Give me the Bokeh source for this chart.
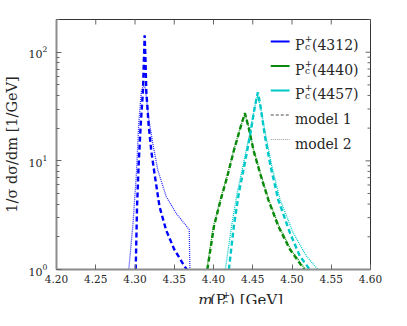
from bokeh.plotting import figure
from bokeh.models import Range1d, LinearScale, FixedTicker, Label
from bokeh.layouts import column
from bokeh.embed import file_html
from bokeh.resources import INLINE

# ---------------- data ----------------
x_ticks = [4.20, 4.25, 4.30, 4.35, 4.40, 4.45, 4.50, 4.55, 4.60]
x_tick_labels = ["4.20", "4.25", "4.30", "4.35", "4.40", "4.45", "4.50", "4.55", "4.60"]
y_ticks = [1, 10, 100]

states = ["4312", "4440", "4457"]
colors = ["#0000ff", "#0a8a0a", "#00c8c8"]
models = ["model 1", "model 2"]

# P_c(4312)
blue_m1_x = [4.3009, 4.3026, 4.3047, 4.3073, 4.3101, 4.3114, 4.3123, 4.3133, 4.3144, 4.3173,
             4.3207, 4.3249, 4.3312, 4.3397, 4.3500, 4.3628, 4.3660]
blue_m1_y = [1.0, 3.8, 9.4, 21.7, 43.6, 88, 143, 88, 43.6, 21.7,
             12.4, 7.6, 3.8, 2.3, 1.53, 1.08, 1.0]
blue_m2_x = [4.2921, 4.2975, 4.3018, 4.3047, 4.3081, 4.3101, 4.3115, 4.3132, 4.3173, 4.3228,
             4.3291, 4.3397, 4.3523, 4.3691, 4.3700]
blue_m2_y = [1.0, 2.67, 7.6, 21.7, 43.6, 48, 49, 47, 25, 14.3,
             8.2, 4.7, 3.3, 2.33, 0.9]

# P_c(4440)
green_m1_x = [4.3922, 4.4006, 4.4090, 4.4174, 4.4259, 4.4343, 4.4400, 4.4448, 4.4511, 4.4595,
              4.4700, 4.4826, 4.4974, 4.5155]
green_m1_y = [1.0, 2.5, 4.35, 7.1, 12.4, 20.2, 27.5, 20.2, 12.4, 7.6,
              4.35, 2.5, 1.53, 1.0]
green_m2_x = [4.3915, 4.4000, 4.4085, 4.4170, 4.4256, 4.4341, 4.4400, 4.4450, 4.4514, 4.4600,
              4.4706, 4.4834, 4.4985, 4.5170]
green_m2_y = [1.0, 2.5, 4.35, 7.1, 12.4, 20.2, 27.0, 20.2, 12.4, 7.6,
              4.35, 2.5, 1.53, 1.0]

# P_c(4457)
cyan_m1_x = [4.4196, 4.4259, 4.4322, 4.4406, 4.4469, 4.4524, 4.4565, 4.4595, 4.4658, 4.4729,
             4.4826, 4.4974, 4.5100, 4.5226]
cyan_m1_y = [1.0, 2.5, 5.0, 10.1, 17.6, 30.8, 42.7, 33, 16.4, 8.8,
             4.35, 2.17, 1.33, 1.0]
cyan_m2_x = [4.4150, 4.4230, 4.4300, 4.4390, 4.4460, 4.4520, 4.4560, 4.4600, 4.4670, 4.4745,
             4.4850, 4.5016, 4.5184, 4.5330]
cyan_m2_y = [1.0, 2.5, 5.0, 10.1, 17.6, 30.0, 40.0, 31, 16.4, 8.8,
             4.35, 2.17, 1.33, 1.0]

# ---------------- style / layout constants ----------------
FONT = "DejaVu Serif"
TXT = "#262626"
TICK = "#666666"
AXC = "#8c8c8c"
FW, FH = 317, 250
LEFT, RIGHT, TOP, BOTTOM = 53, 20, 19, 27
W = LEFT + FW + RIGHT
QH, OVER = 26, 18

# ---------------- main figure ----------------
p = figure(width=W, height=TOP + FH + BOTTOM, y_axis_type="log", title=None,
           x_range=Range1d(4.20, 4.60), y_range=Range1d(1, 200),
           output_backend="svg", toolbar_location=None,
           min_border_left=LEFT, min_border_right=RIGHT, min_border_top=TOP,
           min_border_bottom=BOTTOM)
p.grid.visible = False
p.outline_line_color = "#333333"
p.outline_line_width = 1
p.background_fill_color = "white"
p.border_fill_alpha = 0

p.extra_x_ranges = {"px": Range1d(0, FW)}
p.extra_y_ranges = {"px": Range1d(0, FH)}
p.extra_x_scales = {"px": LinearScale()}
p.extra_y_scales = {"px": LinearScale()}

# bottom axis
xa = p.xaxis[0]
xa.ticker = FixedTicker(ticks=x_ticks)
xa.major_label_overrides = {t: l for t, l in zip(x_ticks, x_tick_labels)}
xa.axis_line_color = AXC
xa.axis_line_width = 2
xa.major_tick_in = 5
xa.major_tick_out = 0
xa.major_tick_line_color = TICK
xa.minor_tick_line_color = None
xa.major_label_text_font = FONT
xa.major_label_text_font_size = "10.5px"
xa.major_label_text_color = TXT
xa.major_label_standoff = 5

# left axis
ya = p.yaxis[0]
ya.axis_line_color = AXC
ya.axis_line_width = 2
ya.major_tick_in = 5
ya.major_tick_out = 0
ya.minor_tick_in = 3
ya.minor_tick_out = 0
ya.major_tick_line_color = TICK
ya.minor_tick_line_color = TICK
ya.major_label_text_font = FONT
ya.major_label_text_font_size = "11px"
ya.major_label_text_color = TXT
ya.major_label_standoff = 9
ya.axis_label = "1/σ dσ/dm [1/GeV]"
ya.axis_label_text_font = FONT
ya.axis_label_text_font_size = "14.5px"
ya.axis_label_text_font_style = "normal"
ya.axis_label_text_color = TXT
ya.axis_label_standoff = 6

# mirrored ticks on top and right
n = len(x_ticks)
p.segment(x0=x_ticks, y0=[FH] * n, x1=x_ticks, y1=[FH - 5] * n, line_color=TICK, line_width=1,
          y_range_name="px")
y_minor = [m * d for d in y_ticks for m in range(2, 10) if m * d <= 200]
p.segment(x0=[FW] * len(y_ticks), y0=y_ticks, x1=[FW - 5] * len(y_ticks), y1=y_ticks,
          line_color=TICK, line_width=1, x_range_name="px")
p.segment(x0=[FW] * len(y_minor), y0=y_minor, x1=[FW - 3] * len(y_minor), y1=y_minor,
          line_color=TICK, line_width=1, x_range_name="px")

# ---------------- curves ----------------
curves = [
    (blue_m2_x, blue_m2_y, "#2a2aff", "dotted"),
    (green_m2_x, green_m2_y, colors[1], "dotted"),
    (cyan_m2_x, cyan_m2_y, colors[2], "dotted"),
    (green_m1_x, green_m1_y, colors[1], "dashed"),
    (cyan_m1_x, cyan_m1_y, colors[2], "dashed"),
    (blue_m1_x, blue_m1_y, colors[0], "dashed"),
]
for xs, ys, c, kind in curves:
    if kind == "dashed":
        p.line(xs, ys, line_color=c, line_width=2.4, line_dash="5 3")
    else:
        p.line(xs, ys, line_color=c, line_width=1.3, line_dash="1 1")


def lab(fig, x, y, text, size, style="normal", rn="px"):
    kw = dict(x_range_name=rn, y_range_name=rn) if rn else {}
    fig.add_layout(Label(x=x, y=y, text=text, text_font=FONT, text_font_size=size,
                         text_font_style=style, text_color=TXT, text_baseline="alphabetic",
                         text_align="left", **kw))


# ---------------- legend (frame pixel coords) ----------------
leg_y = [228, 203.5, 179, 154.5, 130]
lx0, lx1, tx = 216.3, 235.3, 240.7

for i, c in enumerate(colors):
    p.line([lx0, lx1], [leg_y[i], leg_y[i]], line_color=c, line_width=2,
           x_range_name="px", y_range_name="px")
    lab(p, tx, leg_y[i] - 3.5, "P", "14px")
    lab(p, tx + 9.8, leg_y[i] + 2.8, "+", "9px")
    lab(p, tx + 10.2, leg_y[i] - 5.2, "c", "9px")
    lab(p, tx + 17.2, leg_y[i] - 3.5, "(" + states[i] + ")", "14px")

p.line([lx0, lx1], [leg_y[3], leg_y[3]], line_color="#888888", line_width=1.6, line_dash="3 2",
       x_range_name="px", y_range_name="px")
p.line([lx0, lx1], [leg_y[4], leg_y[4]], line_color="#999999", line_width=1, line_dash="1 1",
       x_range_name="px", y_range_name="px")
for j, m in enumerate(models):
    lab(p, tx, leg_y[3 + j] - 4, m, "14px")

# ---------------- transparent strip overlapping the bottom: x label ----------------
q = figure(width=W, height=QH, x_range=Range1d(0, W), y_range=Range1d(0, QH), title=None,
           output_backend="svg", toolbar_location=None,
           x_axis_location=None, y_axis_location=None,
           min_border_left=0, min_border_right=0, min_border_top=0, min_border_bottom=0,
           margin=(-OVER, 0, 0, 0))
q.grid.visible = False
q.outline_line_color = None
q.background_fill_alpha = 0
q.border_fill_alpha = 0

bx, by = 176, 5
lab(q, bx, by, "m", "15px", "italic", None)
lab(q, bx + 14.6, by, "(P", "15px", "normal", None)
lab(q, bx + 29.8, by + 5.5, "+", "9.5px", "normal", None)
lab(q, bx + 30.2, by - 3.4, "c", "10px", "normal", None)
lab(q, bx + 38.4, by, ") [GeV]", "15px", "normal", None)

layout = column(p, q, spacing=0)
open("out.html", "w").write(file_html(layout, INLINE))
